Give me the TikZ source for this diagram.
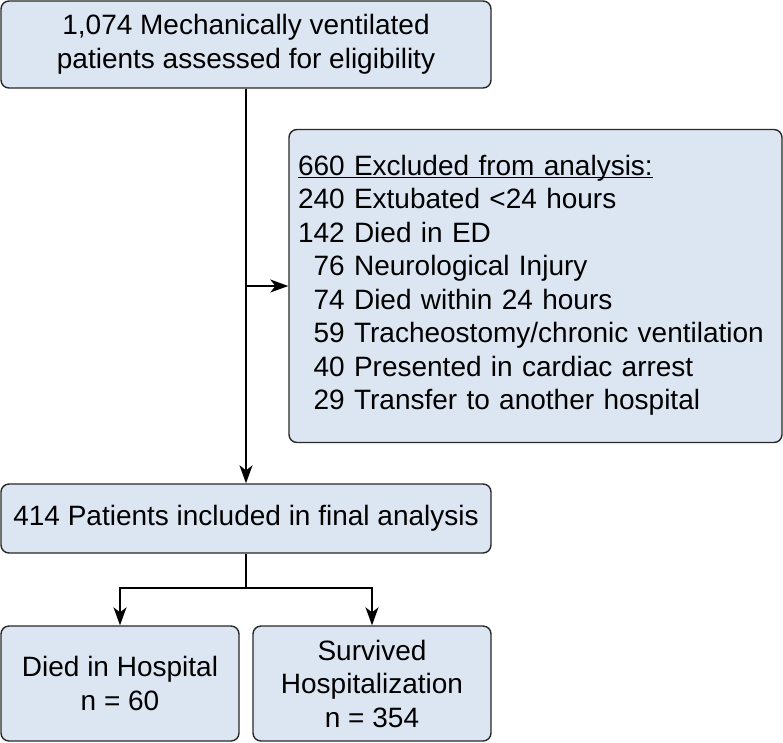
\documentclass[tikz,border=0pt]{standalone}
\usepackage{fontspec}
\setmainfont{Liberation Sans}
\usetikzlibrary{arrows.meta, positioning, calc}
\definecolor{boxfill}{RGB}{220,230,242}
\definecolor{boxline}{RGB}{40,40,40}

\begin{document}
\begin{tikzpicture}[x=1pt, y=-1pt,
    box/.style={draw=boxline, fill=boxfill, line width=1.4pt, rounded corners=8pt, align=center, inner sep=0pt, font=\fontsize{28}{33.5}\selectfont},
    arrow/.style={-{Stealth[length=18pt, width=13pt, inset=5pt]}, line width=1.4pt}]
    \useasboundingbox (0,0) rectangle (783,742);

    % Assessed
    \node[box, minimum width=490pt, minimum height=87pt] (assessed) at (246,44.5) {1,074 Mechanically ventilated\\patients assessed for eligibility};

    % Excluded
    \node[box, minimum width=493pt, minimum height=313pt, text width=475pt, align=left] (excluded) at (535.5,286) {%
        \begin{tabular}{@{}r@{ }l@{}}
        \multicolumn{2}{@{}l@{}}{\underline{\smash{660 Excluded from analysis:}}}\\
        240 & Extubated <24 hours\\
        142 & Died in ED\\
        76 & Neurological Injury\\
        74 & Died within 24 hours\\
        59 & Tracheostomy/chronic ventilation\\
        40 & Presented in cardiac arrest\\
        29 & Transfer to another hospital
        \end{tabular}};

    % Included
    \node[box, minimum width=490pt, minimum height=69pt] (included) at (246,518.5) {414 Patients included in final analysis};

    % Outcomes
    \node[box, minimum width=238pt, minimum height=115pt] (died) at (120,683.5) {Died in Hospital\\n = 60};
    \node[box, minimum width=238pt, minimum height=115pt] (survived) at (372,683.5) {Survived\\Hospitalization\\n = 354};

    % Connectors
    \draw[arrow] (assessed) -- (included);
    \coordinate (branch) at (assessed.south |- excluded.west);
    \draw[arrow] (branch) -- (excluded.west);
    \coordinate (split) at (246,588);
    \draw[line width=1.4pt] (included) -- (split);
    \draw[arrow] (split) -| (died);
    \draw[arrow] (split) -| (survived);
\end{tikzpicture}
\end{document}
